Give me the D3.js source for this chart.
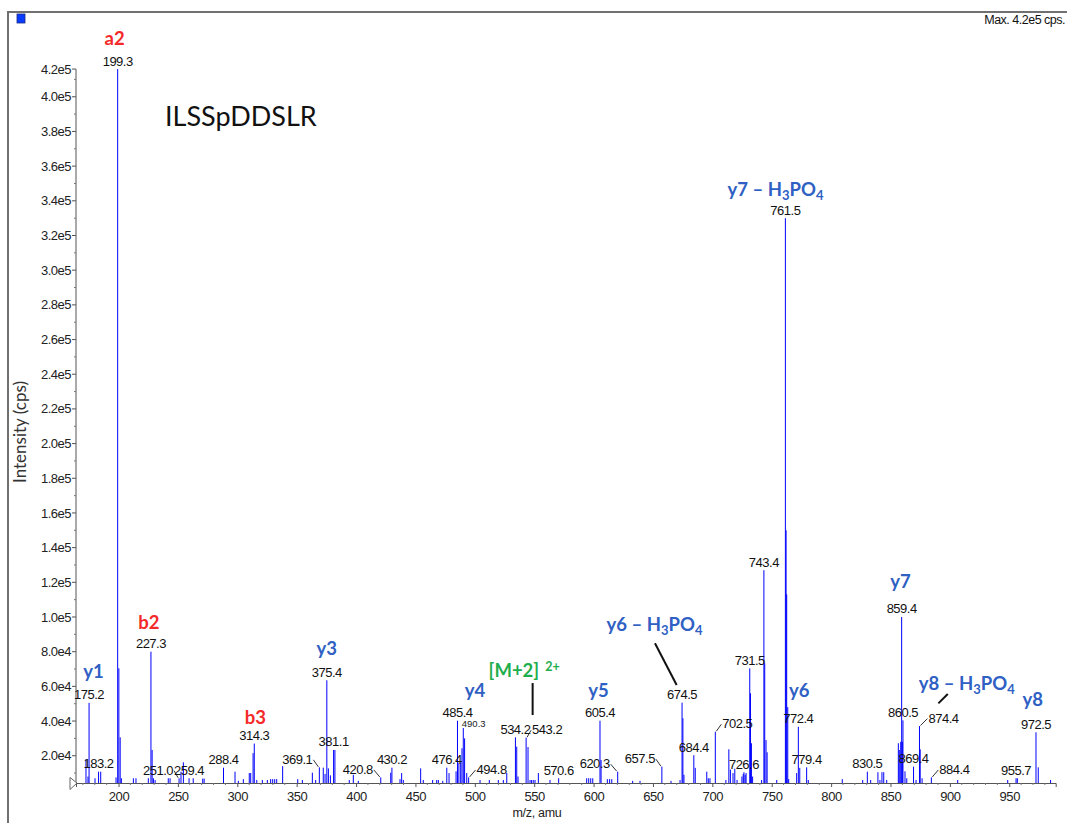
<!DOCTYPE html>
<html>
<head>
<meta charset="utf-8">
<script src="https://cdn.jsdelivr.net/npm/d3@7"></script>
<style>
  body { margin: 0; background: #fff; }
  svg { display: block; }
</style>
</head>
<body>
<div id="chart"></div>
<script>
// spectrum peaks: [m/z, intensity (cps)]
const peaks = [
  [172.6, 18000], [174.3, 8000], [175.2, 50500], [180.2, 7000], [183.2, 10800], [185.0, 10800],
  [197.9, 7500], [199.3, 416000], [200.3, 70400], [201.4, 30600], [202.4, 7000],
  [212.5, 7000], [214.7, 7000], [225.1, 7000], [227.3, 80000], [228.3, 23300], [229.4, 7000],
  [230.8, 6000], [241.9, 7000], [243.4, 7000], [251.0, 7000], [252.6, 10800], [254.6, 16200],
  [259.4, 7000], [262.9, 7000], [270.9, 6800], [272.1, 6800], [288.4, 13100], [298.1, 10800],
  [300.9, 5500], [305.1, 6500], [310.1, 10000], [311.3, 10000], [313.3, 21500], [314.3, 27000],
  [316.4, 6000], [321.1, 6000], [325.3, 6000], [328.1, 6500], [329.8, 6500], [331.5, 6500],
  [333.2, 6500], [338.2, 14000], [350.9, 6500], [354.8, 6000], [363.2, 10200], [366.0, 6000],
  [369.1, 13300], [372.4, 13100], [373.9, 9500], [375.4, 63500], [376.7, 12700], [378.4, 8700],
  [381.1, 23300], [382.2, 23300], [394.3, 6000], [397.7, 9000], [401.9, 5500], [420.8, 7500],
  [429.2, 10200], [430.2, 13100], [437.0, 6500], [438.4, 10000], [439.8, 6000], [454.4, 12700],
  [456.6, 6000], [464.5, 6000], [467.9, 6000], [469.3, 6000], [473.0, 5500], [476.4, 13100],
  [478.3, 10000], [484.2, 11000], [485.4, 40200], [486.6, 16000], [488.1, 16000], [489.2, 24300],
  [490.3, 36000], [491.4, 30000], [493.2, 10000], [494.8, 7500], [504.4, 6000], [512.2, 6000],
  [519.8, 6000], [524.0, 6000], [526.9, 10000], [534.2, 30600], [535.3, 25200], [536.4, 8000],
  [543.2, 30400], [544.8, 25000], [546.5, 6000], [547.8, 6000], [549.2, 6000], [550.7, 6000],
  [553.5, 10000], [563.3, 6000], [570.6, 7000], [594.2, 7000], [595.9, 7000], [597.6, 7000],
  [599.3, 7000], [605.4, 40200], [606.3, 17500], [611.6, 6500], [613.5, 6500], [615.3, 6500],
  [620.3, 10800], [632.9, 5500], [639.1, 5500], [657.5, 13700], [665.2, 5500], [672.8, 6000],
  [674.5, 50600], [675.2, 41600], [676.1, 9000], [684.4, 20300], [685.6, 13000], [695.3, 10800],
  [696.6, 7000], [698.0, 7000], [702.5, 33800], [711.4, 6000], [713.9, 23700], [715.2, 12000],
  [717.4, 10000], [718.9, 12500], [720.8, 6000], [724.9, 8000], [726.0, 9500], [726.6, 10500],
  [727.6, 9000], [728.4, 10000], [731.5, 70400], [732.1, 56000], [732.9, 27200], [733.9, 8000],
  [741.5, 6000], [743.4, 127000], [744.1, 73300], [745.2, 29000], [746.1, 22000], [754.2, 6000],
  [761.5, 330000], [762.1, 150000], [762.6, 113000], [763.5, 48000], [764.3, 6500], [771.0, 10000],
  [772.4, 36700], [773.6, 13000], [779.4, 13300], [780.8, 6000], [809.4, 6500], [826.6, 6000],
  [830.5, 10800], [833.3, 6000], [839.4, 10500], [841.1, 6000], [842.8, 10500], [844.3, 10500],
  [846.8, 6000], [856.6, 27200], [857.4, 23300], [858.6, 28000], [859.4, 100000], [860.0, 28000],
  [860.5, 40400], [862.2, 11000], [863.7, 7000], [869.4, 13700], [871.5, 6000], [874.4, 37100],
  [875.0, 23700], [876.6, 7000], [884.4, 7500], [906.6, 6000], [948.7, 6000], [955.7, 7000],
  [956.8, 7000], [972.5, 33500], [974.4, 13300], [984.8, 6000]
];

// peaks that carry an m/z label
const labeledMz = [
  175.2, 183.2, 199.3, 227.3, 251.0, 259.4, 288.4, 314.3, 369.1, 375.4, 381.1, 420.8, 430.2,
  476.4, 485.4, 490.3, 494.8, 534.2, 543.2, 570.6, 605.4, 620.3, 657.5, 674.5, 684.4, 702.5,
  726.6, 731.5, 743.4, 761.5, 772.4, 779.4, 830.5, 859.4, 860.5, 869.4, 874.4, 884.4, 955.7, 972.5
];

// fragment ion annotations and the peak each belongs to
const ionNames = ["a2", "b2", "b3", "y1", "y3", "y4", "[M+2]", "y5", "y6 – H3PO4", "y6",
  "y7 – H3PO4", "y7", "y8 – H3PO4", "y8"];
const ionPeaks = [199.3, 227.3, 314.3, 175.2, 375.4, 485.4, 534.2, 605.4, 674.5, 772.4,
  761.5, 859.4, 874.4, 972.5];

const peptide = "ILSSpDDSLR";
const yLabelFmt = d3.format(".1e");

// ---- layout ----
const W = 1067, H = 823;
const axisY = 783;
const leaderShift = { "251.0": -21, "369.1": -22, "420.8": -23, "494.8": 23, "543.2": 21,
  "620.3": -23, "657.5": -22, "702.5": 22, "874.4": 24, "884.4": 23 };
const smallLabels = ["490.3"];
// offset of ion text (center, baseline) from peak top, px
const ionOffset = {
  "a2": [-3, -24], "b2": [-2, -22.5], "b3": [1, -19.5], "y1": [4.5, -24.5], "y3": [0, -25.3],
  "y4": [17.5, -23.7], "[M+2]": [8.7, -60.3], "y5": [-1.4, -23.7], "y6 – H3PO4": [-27.6, -71.7],
  "y6": [0.8, -29.7], "y7 – H3PO4": [-9.9, -22.3], "y7": [-1.2, -28.7], "y8 – H3PO4": [47.3, -36],
  "y8": [-3.2, -26.3]
};
const ionLeader = {
  "[M+2]": [[17.2, -54.3], [17.2, -22.3]],
  "y6 – H3PO4": [[-27.1, -59.4], [-5.4, -17.7]],
  "y8 – H3PO4": [[18.9, -22.7], [28.3, -32]]
};

const x = d3.scaleLinear().domain([164.2, 989.1]).range([76, 1055.7]);
const y = d3.scaleLinear().domain([0, 420000]).range([790.4, 62.1]);

const svg = d3.select("#chart").append("svg")
  .attr("width", W).attr("height", H)
  .style("font-family", "'Liberation Sans', Arial, sans-serif");

svg.append("rect").attr("width", W).attr("height", H).attr("fill", "#fff");

// frame
svg.append("path").attr("d", `M8,${H} V12 H${W}`)
  .attr("fill", "none").attr("stroke", "#707070").attr("stroke-width", 2);
svg.append("rect").attr("x", 17).attr("y", 14).attr("width", 8).attr("height", 9)
  .attr("fill", "#0a3cff").attr("stroke", "#1a2a80").attr("stroke-width", 0.8);

const maxI = d3.max(peaks, d => d[1]);
svg.append("text").attr("x", 1065).attr("y", 24).attr("text-anchor", "end")
  .attr("font-size", 12.5).attr("letter-spacing", -0.5).attr("fill", "#111")
  .text(`Max. ${yLabelFmt(maxI).replace("+", "")} cps.`);

// peaks
svg.append("g").selectAll("line").data(peaks).join("line")
  .attr("x1", d => x(d[0])).attr("x2", d => x(d[0]))
  .attr("y1", axisY).attr("y2", d => y(d[1]))
  .attr("stroke", "#0000ff").attr("stroke-width", 1);

// axes
const yMajor = d3.range(20000, 400001, 20000).concat([maxI]);
const yMinor = d3.range(10000, 410001, 20000);
const gy = svg.append("g");
gy.append("line").attr("x1", 76).attr("x2", 76).attr("y1", axisY).attr("y2", y(maxI))
  .attr("stroke", "#555");
gy.selectAll(".mj").data(yMajor).join("line").attr("class", "mj")
  .attr("x1", 72).attr("x2", 76).attr("y1", d => y(d)).attr("y2", d => y(d)).attr("stroke", "#555");
gy.selectAll(".mn").data(yMinor).join("line").attr("class", "mn")
  .attr("x1", 74).attr("x2", 76).attr("y1", d => y(d)).attr("y2", d => y(d)).attr("stroke", "#777");
gy.selectAll("text").data(yMajor).join("text")
  .attr("x", 71).attr("y", d => y(d)).attr("dy", "0.35em").attr("text-anchor", "end")
  .attr("font-size", 13).attr("letter-spacing", -0.5).attr("fill", "#222")
  .text(d => yLabelFmt(d).replace("+", ""));

const gx = svg.append("g").attr("transform", `translate(0,${axisY})`)
  .call(d3.axisBottom(x).tickValues(d3.range(200, 951, 50)).tickSize(4).tickPadding(5)
    .tickFormat(d3.format("d")));
gx.select(".domain").attr("stroke", "#555");
gx.selectAll(".tick line").attr("stroke", "#555");
gx.selectAll(".tick text").attr("font-size", 13).attr("letter-spacing", -0.4)
  .attr("fill", "#222").attr("font-family", "'Liberation Sans', Arial, sans-serif");
svg.append("g").selectAll("line").data(d3.range(170, 981, 10).filter(v => v % 50)).join("line")
  .attr("x1", d => x(d)).attr("x2", d => x(d)).attr("y1", axisY).attr("y2", axisY + 2)
  .attr("stroke", "#777");

// origin marker
svg.append("path").attr("d", `M70,${axisY - 5.5} L77,${axisY} L70,${axisY + 6.5} Z`)
  .attr("fill", "#fff").attr("stroke", "#666");

svg.append("text").attr("x", 537).attr("y", 817).attr("text-anchor", "middle")
  .attr("font-size", 12.5).attr("letter-spacing", -0.3).attr("fill", "#222").text("m/z, amu");

svg.append("text").attr("transform", "translate(26,432) rotate(-90)")
  .attr("text-anchor", "middle").attr("font-family", "Lato, 'Open Sans', sans-serif")
  .attr("font-size", 17).attr("fill", "#333").text("Intensity (cps)");

svg.append("text").attr("x", 165).attr("y", 126)
  .attr("font-family", "Lato, 'Open Sans', sans-serif").attr("font-size", 27).attr("fill", "#111")
  .text(peptide);

// m/z labels
const peakOf = mz => peaks.find(p => p[0] === mz);
const gl = svg.append("g");
labeledMz.forEach(mz => {
  const p = peakOf(mz);
  const t = mz.toFixed(1);
  const px = x(mz), top = y(p[1]);
  if (smallLabels.includes(t)) {
    gl.append("text").attr("x", px - 1.5).attr("y", top - 1).attr("font-size", 9.5)
      .attr("fill", "#222").text(t);
    return;
  }
  const dx = leaderShift[t] || 0;
  const lx = px + dx, ly = top - 3.5;
  const txt = gl.append("text").attr("x", lx).attr("y", ly).attr("text-anchor", "middle")
    .attr("font-size", 13).attr("letter-spacing", -0.5).attr("fill", "#111").text(t);
  if (dx) {
    const half = txt.node().getComputedTextLength() / 2;
    const ex = dx > 0 ? lx - half - 1 : lx + half + 1;
    gl.append("line").attr("x1", px + (dx > 0 ? 1 : -1)).attr("y1", top - 0.5)
      .attr("x2", ex).attr("y2", ly - 4).attr("stroke", "#333").attr("stroke-width", 1);
  }
});

// ion annotations
const ionColor = n => n[0] === "y" ? "#2f60c4" : n[0] === "[" ? "#1fae4d" : "#f42a2a";
const ga = svg.append("g").attr("font-family", "Lato, 'Open Sans', sans-serif")
  .attr("font-weight", "bold").attr("font-size", 18.5);
ionNames.forEach((n, i) => {
  const p = peakOf(ionPeaks[i]);
  const px = x(p[0]), top = y(p[1]);
  const [ox, oy] = ionOffset[n];
  const t = ga.append("text").attr("x", px + ox).attr("y", top + oy)
    .attr("text-anchor", "middle").attr("fill", ionColor(n));
  if (n.includes("H3PO4")) {
    t.append("tspan").text(n.split("H3PO4")[0] + "H");
    t.append("tspan").attr("dy", 4).attr("font-size", 13).text("3");
    t.append("tspan").attr("dy", -4).text("PO");
    t.append("tspan").attr("dy", 4).attr("font-size", 13).text("4");
  } else if (n[0] === "[") {
    t.append("tspan").text(n);
    t.append("tspan").attr("dx", 6).attr("dy", -6).attr("font-size", 12.5).text("2+");
  } else {
    t.text(n);
  }
  if (ionLeader[n]) {
    const [[ax, ay], [bx, by]] = ionLeader[n];
    ga.append("line").attr("x1", px + ax).attr("y1", top + ay)
      .attr("x2", px + bx).attr("y2", top + by)
      .attr("stroke", "#111").attr("stroke-width", 2);
  }
});
</script>
</body>
</html>
